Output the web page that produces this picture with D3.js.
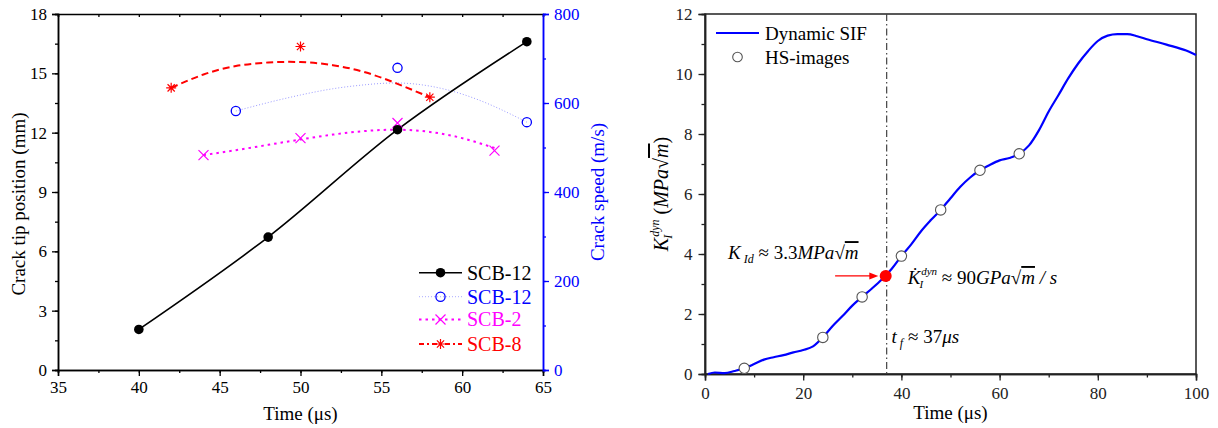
<!DOCTYPE html>
<html><head><meta charset="utf-8">
<script src="https://cdn.jsdelivr.net/npm/d3@7"></script>
<style>
html,body{margin:0;padding:0;background:#fff;}
svg{display:block;font-family:"Liberation Serif","Times New Roman",serif;}
</style></head>
<body>
<svg id="chart" width="1218" height="428"></svg>
<script>
// ---------------- Left chart data ----------------
const posTime = [40, 48, 56, 64];
const posSCB12 = [2.05, 6.72, 12.15, 16.6];

const spdTimeSCB12 = [46, 56, 64];
const spdSCB12 = [582, 679, 557];
const fitTimeSCB12 = [46, 48, 50, 52, 54, 56, 58, 60, 62, 64];
const fitSCB12 = [582, 601, 618, 632, 641, 645, 638, 620, 592, 557];

const spdTimeSCB2 = [44, 50, 56, 62];
const spdSCB2 = [483, 521, 555, 493];
const fitTimeSCB2 = [44, 46, 48, 50, 52, 54, 56, 58, 60, 62];
const fitSCB2 = [483, 494, 506, 518, 529, 537, 540, 535, 521, 499];

const spdTimeSCB8 = [42, 50, 58];
const spdSCB8 = [634, 727, 613];
const fitTimeSCB8 = [42, 44, 46, 48, 50, 52, 54, 56, 58];
const fitSCB8 = [634, 664, 683, 691, 692, 685, 669, 643, 613];

const leftXTicks = [35, 40, 45, 50, 55, 60, 65];
const leftYTicks = [0, 3, 6, 9, 12, 15, 18];
const rightYTicks = [0, 200, 400, 600, 800];
const legendLabels = ["SCB-12", "SCB-12", "SCB-2", "SCB-8"];

// ---------------- Right chart data ----------------
const sifTime = [0.6, 2, 4, 6, 8, 10, 12, 14, 16, 18, 20, 22, 24, 26, 28, 30, 32, 34, 36, 38, 40, 42, 44, 46, 48, 50, 52, 54, 56, 58, 60, 62, 64, 66, 68, 70, 72, 74, 76, 78, 80, 82, 84, 86, 88, 90, 94, 98, 100];
const sifK = [0, 0.05, 0.03, 0.1, 0.19, 0.33, 0.48, 0.56, 0.63, 0.72, 0.8, 0.92, 1.22, 1.6, 1.93, 2.28, 2.57, 2.85, 3.15, 3.5, 3.93, 4.32, 4.76, 5.13, 5.47, 5.86, 6.24, 6.55, 6.79, 6.97, 7.12, 7.2, 7.34, 7.62, 8.12, 8.75, 9.3, 9.86, 10.35, 10.76, 11.1, 11.28, 11.33, 11.33, 11.26, 11.16, 10.98, 10.78, 10.63];
const hsTime = [8, 24, 32, 40, 48, 56, 64];
const hsK = [0.19, 1.22, 2.57, 3.93, 5.47, 6.79, 7.34];
const critTime = 36.8, critK = 3.27, tf = 37;
const sifXTicks = [0, 20, 40, 60, 80, 100];
const sifYTicks = [0, 2, 4, 6, 8, 10, 12];

const svg = d3.select("#chart");
const FONT = '"Liberation Serif","Times New Roman",serif';
const TICKFS = 17;

// ================= LEFT CHART =================
const L = {l: 58, r: 543, t: 14, b: 370};
const xL = d3.scaleLinear().domain([35, 65]).range([L.l, L.r]);
const yL = d3.scaleLinear().domain([0, 18]).range([L.b, L.t]);
const yR = d3.scaleLinear().domain([0, 800]).range([L.b, L.t]);

const gL = svg.append("g");

const ax = gL.append("g").attr("font-family", FONT);
function styleAxis(g, color) {
  g.select(".domain").attr("stroke", color).attr("stroke-width", 1.5);
  g.selectAll(".tick line").attr("stroke", color).attr("stroke-width", 1.3);
  g.selectAll(".tick text").attr("fill", color).attr("font-size", TICKFS).attr("font-family", FONT);
}
const minorX = d3.range(35, 65.01, 2.5);
ax.append("g").attr("transform", `translate(0,${L.b})`)
  .call(d3.axisBottom(xL).tickValues(minorX).tickSize(3).tickFormat(""))
  .call(g => styleAxis(g, "#000"));
ax.append("g").attr("transform", `translate(0,${L.b})`)
  .call(d3.axisBottom(xL).tickValues(leftXTicks).tickSize(6).tickPadding(5).tickFormat(d3.format("d")))
  .call(g => styleAxis(g, "#000"));
ax.append("g").attr("transform", `translate(0,${L.t})`)
  .call(d3.axisBottom(xL).tickValues(minorX).tickSize(3).tickFormat(""))
  .call(g => styleAxis(g, "#000"));
ax.append("g").attr("transform", `translate(${L.l},0)`)
  .call(d3.axisLeft(yL).tickValues(d3.range(0, 18.01, 1.5)).tickSize(3).tickFormat(""))
  .call(g => styleAxis(g, "#000"));
ax.append("g").attr("transform", `translate(${L.l},0)`)
  .call(d3.axisLeft(yL).tickValues(leftYTicks).tickSize(6).tickPadding(5).tickFormat(d3.format("d")))
  .call(g => styleAxis(g, "#000"));
ax.append("g").attr("transform", `translate(${L.r},0)`)
  .call(d3.axisRight(yR).tickValues(d3.range(0, 801, 100)).tickSize(3).tickFormat(""))
  .call(g => styleAxis(g, "#0000ff"));
ax.append("g").attr("transform", `translate(${L.r},0)`)
  .call(d3.axisRight(yR).tickValues(rightYTicks).tickSize(6).tickPadding(5).tickFormat(d3.format("d")))
  .call(g => styleAxis(g, "#0000ff"));

gL.append("text").attr("x", (L.l + L.r) / 2).attr("y", 420).attr("text-anchor", "middle")
  .attr("font-size", 19).text("Time (μs)");
gL.append("text").attr("transform", `translate(25,${(L.t + L.b) / 2 + 12}) rotate(-90)`)
  .attr("text-anchor", "middle").attr("font-size", 19).text("Crack tip position (mm)");
gL.append("text").attr("transform", `translate(604,${(L.t + L.b) / 2}) rotate(-90)`)
  .attr("text-anchor", "middle").attr("font-size", 19).attr("fill", "#0000ff").text("Crack speed (m/s)");

const fitLine = (ys) => d3.line().x(d => xL(d[0])).y(d => ys(d[1])).curve(d3.curveNatural);
gL.append("path").datum(d3.zip(fitTimeSCB12, fitSCB12)).attr("d", fitLine(yR))
  .attr("fill", "none").attr("stroke", "#9a9aff").attr("stroke-width", 1).attr("stroke-dasharray", "1,2");
gL.append("path").datum(d3.zip(fitTimeSCB2, fitSCB2)).attr("d", fitLine(yR))
  .attr("fill", "none").attr("stroke", "#ff00ff").attr("stroke-width", 2).attr("stroke-dasharray", "2.5,4");
gL.append("path").datum(d3.zip(fitTimeSCB8, fitSCB8)).attr("d", fitLine(yR))
  .attr("fill", "none").attr("stroke", "#ff0000").attr("stroke-width", 2).attr("stroke-dasharray", "7,4");

gL.append("path").datum(d3.zip(posTime, posSCB12))
  .attr("d", d3.line().x(d => xL(d[0])).y(d => yL(d[1])).curve(d3.curveMonotoneX))
  .attr("fill", "none").attr("stroke", "#000").attr("stroke-width", 1.6);

function drawMarker(g, type, cx, cy) {
  if (type === "dot") {
    g.append("circle").attr("cx", cx).attr("cy", cy).attr("r", 4.8).attr("fill", "#000");
  } else if (type === "circle") {
    g.append("circle").attr("cx", cx).attr("cy", cy).attr("r", 4.6).attr("fill", "none")
      .attr("stroke", "#0000ff").attr("stroke-width", 1.3);
  } else if (type === "x") {
    const s = 5;
    g.append("path").attr("d", `M${cx - s},${cy - s}L${cx + s},${cy + s}M${cx - s},${cy + s}L${cx + s},${cy - s}`)
      .attr("stroke", "#ff00ff").attr("stroke-width", 1.2);
  } else if (type === "star") {
    const s = 5, d = 3.6;
    g.append("path").attr("d", `M${cx - s},${cy}L${cx + s},${cy}M${cx},${cy - s}L${cx},${cy + s}M${cx - d},${cy - d}L${cx + d},${cy + d}M${cx - d},${cy + d}L${cx + d},${cy - d}`)
      .attr("stroke", "#ff0000").attr("stroke-width", 1.2);
  }
}
const mk = gL.append("g");
spdTimeSCB12.forEach((t, i) => drawMarker(mk, "circle", xL(t), yR(spdSCB12[i])));
spdTimeSCB2.forEach((t, i) => drawMarker(mk, "x", xL(t), yR(spdSCB2[i])));
spdTimeSCB8.forEach((t, i) => drawMarker(mk, "star", xL(t), yR(spdSCB8[i])));
posTime.forEach((t, i) => drawMarker(mk, "dot", xL(t), yL(posSCB12[i])));

const legStyles = [
  {type: "dot", color: "#000", dash: null, w: 1.6},
  {type: "circle", color: "#aaaaff", dash: "1,2", w: 1},
  {type: "x", color: "#ff00ff", dash: "2.5,4", w: 2},
  {type: "star", color: "#ff0000", dash: "5,3,2,3", w: 2}
];
const legTextColors = ["#000", "#0000ff", "#ff00ff", "#ff0000"];
const legY = [272.7, 296.7, 319.5, 344];
const lg = gL.append("g");
legendLabels.forEach((lab, i) => {
  const st = legStyles[i];
  lg.append("line").attr("x1", 419).attr("x2", 462).attr("y1", legY[i]).attr("y2", legY[i])
    .attr("stroke", st.color).attr("stroke-width", st.w).attr("stroke-dasharray", st.dash);
  drawMarker(lg, st.type, 440.5, legY[i]);
  lg.append("text").attr("x", 467).attr("y", legY[i] + 6.8).attr("font-size", 20)
    .attr("fill", legTextColors[i]).text(lab);
});

// ================= RIGHT CHART =================
const R = {l: 705, r: 1196, t: 14, b: 374};
const xS = d3.scaleLinear().domain([0, 100]).range([R.l, R.r]);
const yS = d3.scaleLinear().domain([0, 12]).range([R.b, R.t]);
const gR = svg.append("g");

gR.append("rect").attr("x", R.l).attr("y", R.t).attr("width", R.r - R.l).attr("height", R.b - R.t)
  .attr("fill", "none").attr("stroke", "#222").attr("stroke-width", 1.5);

gR.append("g").attr("transform", `translate(0,${R.b})`)
  .call(d3.axisBottom(xS).tickValues(d3.range(0, 101, 10)).tickSize(3.5).tickFormat(""))
  .call(g => styleAxis(g, "#222"));
gR.append("g").attr("transform", `translate(0,${R.b})`)
  .call(d3.axisBottom(xS).tickValues(sifXTicks).tickSize(6.5).tickPadding(6).tickFormat(d3.format("d")))
  .call(g => styleAxis(g, "#222"));
gR.append("g").attr("transform", `translate(${R.l},0)`)
  .call(d3.axisLeft(yS).tickValues(d3.range(0, 12.01, 1)).tickSize(3.5).tickFormat(""))
  .call(g => styleAxis(g, "#222"));
gR.append("g").attr("transform", `translate(${R.l},0)`)
  .call(d3.axisLeft(yS).tickValues(sifYTicks).tickSize(6.5).tickPadding(6).tickFormat(d3.format("d")))
  .call(g => styleAxis(g, "#222"));

gR.append("text").attr("x", (R.l + R.r) / 2).attr("y", 419).attr("text-anchor", "middle")
  .attr("font-size", 19).text("Time (μs)");

const yt = gR.append("text").attr("transform", `translate(668,${(R.t + R.b) / 2}) rotate(-90)`)
  .attr("text-anchor", "middle").attr("font-size", 20);
yt.append("tspan").attr("font-style", "italic").text("K");
yt.append("tspan").attr("font-style", "italic").attr("font-size", 12).attr("dy", 4).attr("dx", -1).text("I");
yt.append("tspan").attr("font-style", "italic").attr("font-size", 12).attr("dy", -13).attr("dx", -2).text("dyn");
yt.append("tspan").attr("dy", 9).text(" (");
yt.append("tspan").attr("font-style", "italic").text("MPa");
yt.append("tspan").text("√");
yt.append("tspan").attr("font-style", "italic").attr("text-decoration", "overline").text("m");
yt.append("tspan").text(")");

gR.append("line").attr("x1", xS(tf)).attr("x2", xS(tf)).attr("y1", R.t).attr("y2", R.b)
  .attr("stroke", "#444").attr("stroke-width", 1.2).attr("stroke-dasharray", "7,3,1.5,3");

gR.append("path").datum(d3.zip(sifTime, sifK))
  .attr("d", d3.line().x(d => xS(d[0])).y(d => yS(d[1])).curve(d3.curveMonotoneX))
  .attr("fill", "none").attr("stroke", "#0000ff").attr("stroke-width", 2.2);

gR.selectAll("circle.hs").data(d3.zip(hsTime, hsK)).join("circle").attr("class", "hs")
  .attr("cx", d => xS(d[0])).attr("cy", d => yS(d[1])).attr("r", 5.2)
  .attr("fill", "#fff").attr("stroke", "#555").attr("stroke-width", 1.1);

const arrowStart = 26.5, arrowEnd = 35.3;
gR.append("line").attr("x1", xS(arrowStart)).attr("x2", xS(arrowEnd) - 6).attr("y1", yS(critK)).attr("y2", yS(critK))
  .attr("stroke", "#ff0000").attr("stroke-width", 1.3);
gR.append("path").attr("d", `M${xS(arrowEnd)},${yS(critK)}L${xS(arrowEnd) - 9},${yS(critK) - 3.5}L${xS(arrowEnd) - 9},${yS(critK) + 3.5}Z`)
  .attr("fill", "#ff0000");
gR.append("circle").attr("cx", xS(critTime)).attr("cy", yS(critK)).attr("r", 6).attr("fill", "#ff0000");

gR.append("line").attr("x1", 716).attr("x2", 759).attr("y1", 33).attr("y2", 33)
  .attr("stroke", "#0000ff").attr("stroke-width", 2);
gR.append("text").attr("x", 765).attr("y", 39.5).attr("font-size", 19).text("Dynamic SIF");
gR.append("circle").attr("cx", 737.5).attr("cy", 57).attr("r", 4.8).attr("fill", "#fff")
  .attr("stroke", "#555").attr("stroke-width", 1.1);
gR.append("text").attr("x", 765).attr("y", 63.5).attr("font-size", 19).text("HS-images");

const a1 = gR.append("text").attr("x", xS(4.7)).attr("y", yS(3.83)).attr("font-size", 19);
a1.append("tspan").attr("font-style", "italic").text("K");
a1.append("tspan").attr("font-style", "italic").attr("font-size", 12).attr("dy", 4).text(" Id");
a1.append("tspan").attr("dy", -4).text(" ≈ 3.3");
a1.append("tspan").attr("font-style", "italic").text("MPa");
a1.append("tspan").text("√");
a1.append("tspan").attr("font-style", "italic").attr("text-decoration", "overline").text("m");

const a2 = gR.append("text").attr("x", xS(41.3)).attr("y", yS(3.0)).attr("font-size", 19);
a2.append("tspan").attr("font-style", "italic").text("K\u0307");
a2.append("tspan").attr("font-style", "italic").attr("font-size", 11).attr("dy", 4).attr("dx", -1).text("I");
a2.append("tspan").attr("font-style", "italic").attr("font-size", 11).attr("dy", -13).attr("dx", -2).text("dyn");
a2.append("tspan").attr("dy", 9).text(" ≈ 90");
a2.append("tspan").attr("font-style", "italic").text("GPa");
a2.append("tspan").text("√");
a2.append("tspan").attr("font-style", "italic").attr("text-decoration", "overline").text("m");
a2.append("tspan").attr("font-style", "italic").text(" / s");

const a3 = gR.append("text").attr("x", xS(38.0)).attr("y", yS(1.03)).attr("font-size", 19);
a3.append("tspan").attr("font-style", "italic").text("t");
a3.append("tspan").attr("font-style", "italic").attr("font-size", 12).attr("dy", 4).text(" f");
a3.append("tspan").attr("dy", -4).text(" ≈ 37");
a3.append("tspan").attr("font-style", "italic").text("μs");
</script>
</body></html>
